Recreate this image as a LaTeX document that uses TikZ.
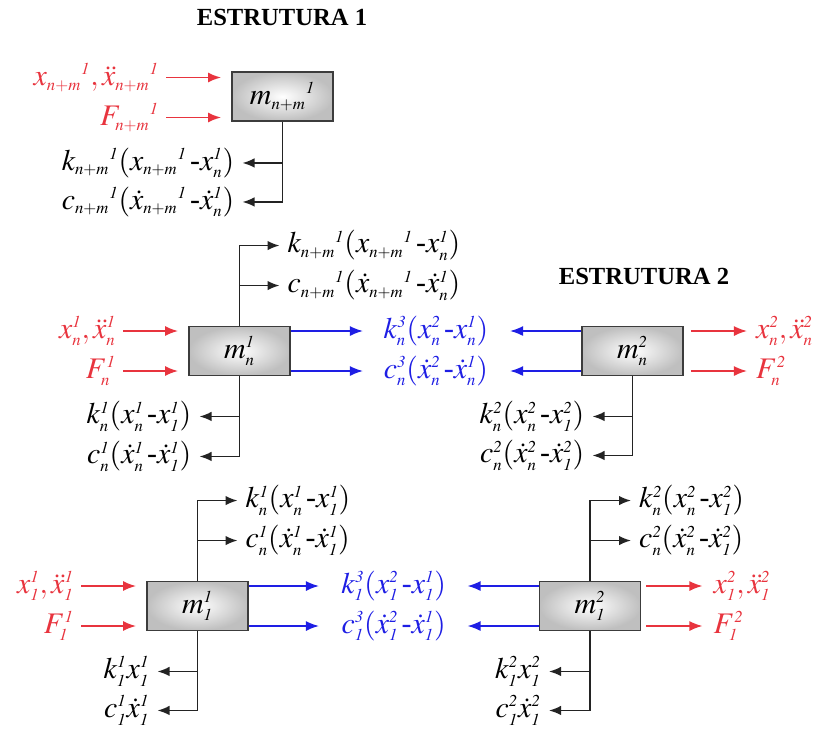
\documentclass[tikz,border=0pt]{standalone}
\usepackage{mathptmx}
\usepackage{fontspec}
\setmainfont{Liberation Serif}
\DeclareMathSizes{17}{17}{9.5}{7}
\usetikzlibrary{
    arrows.meta,
    positioning,
    calc
}
\definecolor{sigred}{RGB}{232,52,62}
\definecolor{sigblue}{RGB}{30,30,228}
\definecolor{wire}{RGB}{35,35,35}
\definecolor{boxline}{RGB}{60,60,60}
% italic digits and short dash, as in the drawing
\newcommand{\iOne}{\mathit{1}}
\newcommand{\iTwo}{\mathit{2}}
\newcommand{\iThree}{\mathit{3}}
\newcommand{\hy}{\,\mbox{-}}
\tikzset{
    % --- Mass block (shaded rectangle) ---
    mass/.style = {
        rectangle, draw=boxline, line width=1.1pt,
        minimum width=2.02cm, minimum height=0.98cm,
        inner color=white, outer color=gray!50,
        font=\fontsize{17}{19}\selectfont
    },
    % --- Force / state label ---
    lbl/.style = {
        font=\fontsize{17}{19}\selectfont, inner sep=0.5pt
    },
    red lbl/.style = {lbl, text=sigred},
    blue lbl/.style = {lbl, text=sigblue},
    % --- Structure title ---
    title/.style = {
        font=\fontsize{14}{16}\selectfont\bfseries
    },
    % --- Arrows ---
    red arrow/.style = {
        -{Latex[length=2.6mm,width=2mm]}, sigred, line width=0.9pt
    },
    blue arrow/.style = {
        -{Latex[length=2.6mm,width=2mm]}, sigblue, line width=0.9pt
    },
    wire arrow/.style = {
        -{Latex[length=2.4mm,width=1.9mm]}, wire, line width=0.9pt
    }
}

\begin{document}
\begin{tikzpicture}

\useasboundingbox (0,0) rectangle (16.48,-14.6);

% ---------------------------------------------------------
% Titles
% ---------------------------------------------------------
\node[title] (T1) at (5.64, -0.34) {ESTRUTURA 1};
\node[title] (T2) at (12.88, -5.52) {ESTRUTURA 2};

% ---------------------------------------------------------
% Masses
% ---------------------------------------------------------
\node[mass] (Mnm) at (5.65, -1.93)  {$m_{n+m}{}^{\iOne}$};
\node[mass] (Mn1) at (4.79, -7.02)  {$m_{n}^{\iOne}$};
\node[mass] (Mn2) at (12.65, -7.02) {$m_{n}^{\iTwo}$};
\node[mass] (M11) at (3.95, -12.12) {$m_{\iOne}^{\iOne}$};
\node[mass] (M12) at (11.80, -12.12) {$m_{\iOne}^{\iTwo}$};

% ---------------------------------------------------------
% Mass m_{n+m}^1
% ---------------------------------------------------------
\node[red lbl, anchor=east] (XNM) at ($(Mnm.west)+(-1.42,0.38)$)
    {$x_{n+m}{}^{\iOne},\ddot{x}_{n+m}{}^{\iOne}$};
\node[red lbl, anchor=east] (FNM) at ($(Mnm.west)+(-1.42,-0.42)$)
    {$F_{n+m}{}^{\iOne}$};
\draw[red arrow, shorten <=0.12cm, shorten >=0.2cm] (XNM.east) -- (XNM.east -| Mnm.west);
\draw[red arrow, shorten <=0.12cm, shorten >=0.2cm] (FNM.east) -- (FNM.east -| Mnm.west);

\node[lbl, anchor=east] (KNMa) at ($(Mnm.south)+(-0.94,-0.82)$)
    {$k_{n+m}{}^{\iOne}(x_{n+m}{}^{\iOne}\hy x_{n}^{\iOne})$};
\node[lbl, anchor=east] (CNMa) at ($(Mnm.south)+(-0.94,-1.6)$)
    {$c_{n+m}{}^{\iOne}(\dot{x}_{n+m}{}^{\iOne}\hy\dot{x}_{n}^{\iOne})$};
\draw[wire arrow, shorten >=0.14cm] (Mnm.south) |- (KNMa.east);
\draw[wire arrow, shorten >=0.14cm] (Mnm.south) |- (CNMa.east);

% ---------------------------------------------------------
% Mass m_n^1
% ---------------------------------------------------------
\node[lbl, anchor=west] (KNMb) at ($(Mn1.north)+(0.94,1.6)$)
    {$k_{n+m}{}^{\iOne}(x_{n+m}{}^{\iOne}\hy x_{n}^{\iOne})$};
\node[lbl, anchor=west] (CNMb) at ($(Mn1.north)+(0.94,0.8)$)
    {$c_{n+m}{}^{\iOne}(\dot{x}_{n+m}{}^{\iOne}\hy\dot{x}_{n}^{\iOne})$};
\draw[wire arrow, shorten >=0.14cm] (Mn1.north) |- (KNMb.west);
\draw[wire arrow, shorten >=0.14cm] (Mn1.north) |- (CNMb.west);

\node[red lbl, anchor=east] (XN1) at ($(Mn1.west)+(-1.42,0.4)$)
    {$x_{n}^{\iOne},\ddot{x}_{n}^{\iOne}$};
\node[red lbl, anchor=east] (FN1) at ($(Mn1.west)+(-1.42,-0.4)$)
    {$F_{n}^{\iOne}$};
\draw[red arrow, shorten <=0.12cm, shorten >=0.2cm] (XN1.east) -- (XN1.east -| Mn1.west);
\draw[red arrow, shorten <=0.12cm, shorten >=0.2cm] (FN1.east) -- (FN1.east -| Mn1.west);

\node[lbl, anchor=east] (KN1a) at ($(Mn1.south)+(-0.94,-0.8)$)
    {$k_{n}^{\iOne}(x_{n}^{\iOne}\hy x_{\iOne}^{\iOne})$};
\node[lbl, anchor=east] (CN1a) at ($(Mn1.south)+(-0.94,-1.6)$)
    {$c_{n}^{\iOne}(\dot{x}_{n}^{\iOne}\hy\dot{x}_{\iOne}^{\iOne})$};
\draw[wire arrow, shorten >=0.14cm] (Mn1.south) |- (KN1a.east);
\draw[wire arrow, shorten >=0.14cm] (Mn1.south) |- (CN1a.east);

% ---------------------------------------------------------
% Coupling n (between structures)
% ---------------------------------------------------------
\node[blue lbl] (KN3) at ($(Mn1.east)!0.5!(Mn2.west)+(0,0.4)$)
    {$k_{n}^{\iThree}(x_{n}^{\iTwo}\hy x_{n}^{\iOne})$};
\node[blue lbl] (CN3) at ($(Mn1.east)!0.5!(Mn2.west)+(0,-0.4)$)
    {$c_{n}^{\iThree}(\dot{x}_{n}^{\iTwo}\hy\dot{x}_{n}^{\iOne})$};
\coordinate (KN3l) at ($(Mn1.east)+(1.44,0.4)$);
\coordinate (CN3l) at ($(Mn1.east)+(1.44,-0.4)$);
\coordinate (KN3r) at ($(Mn2.west)+(-1.42,0.4)$);
\coordinate (CN3r) at ($(Mn2.west)+(-1.42,-0.4)$);
\draw[blue arrow] (KN3l -| Mn1.east) -- (KN3l);
\draw[blue arrow] (CN3l -| Mn1.east) -- (CN3l);
\draw[blue arrow] (KN3r -| Mn2.west) -- (KN3r);
\draw[blue arrow] (CN3r -| Mn2.west) -- (CN3r);

% ---------------------------------------------------------
% Mass m_n^2
% ---------------------------------------------------------
\node[red lbl, anchor=west] (XN2) at ($(Mn2.east)+(1.42,0.4)$)
    {$x_{n}^{\iTwo},\ddot{x}_{n}^{\iTwo}$};
\node[red lbl, anchor=west] (FN2) at ($(Mn2.east)+(1.42,-0.4)$)
    {$F_{n}^{\iTwo}$};
\draw[red arrow, shorten <=0.14cm, shorten >=0.16cm] (XN2.west -| Mn2.east) -- (XN2.west);
\draw[red arrow, shorten <=0.14cm, shorten >=0.16cm] (FN2.west -| Mn2.east) -- (FN2.west);

\node[lbl, anchor=east] (KN2a) at ($(Mn2.south)+(-0.94,-0.8)$)
    {$k_{n}^{\iTwo}(x_{n}^{\iTwo}\hy x_{\iOne}^{\iTwo})$};
\node[lbl, anchor=east] (CN2a) at ($(Mn2.south)+(-0.94,-1.58)$)
    {$c_{n}^{\iTwo}(\dot{x}_{n}^{\iTwo}\hy\dot{x}_{\iOne}^{\iTwo})$};
\draw[wire arrow, shorten >=0.14cm] (Mn2.south) |- (KN2a.east);
\draw[wire arrow, shorten >=0.14cm] (Mn2.south) |- (CN2a.east);

% ---------------------------------------------------------
% Mass m_1^1
% ---------------------------------------------------------
\node[lbl, anchor=west] (KN1b) at ($(M11.north)+(0.94,1.6)$)
    {$k_{n}^{\iOne}(x_{n}^{\iOne}\hy x_{\iOne}^{\iOne})$};
\node[lbl, anchor=west] (CN1b) at ($(M11.north)+(0.94,0.8)$)
    {$c_{n}^{\iOne}(\dot{x}_{n}^{\iOne}\hy\dot{x}_{\iOne}^{\iOne})$};
\draw[wire arrow, shorten >=0.14cm] (M11.north) |- (KN1b.west);
\draw[wire arrow, shorten >=0.14cm] (M11.north) |- (CN1b.west);

\node[red lbl, anchor=east] (X11) at ($(M11.west)+(-1.42,0.4)$)
    {$x_{\iOne}^{\iOne},\ddot{x}_{\iOne}^{\iOne}$};
\node[red lbl, anchor=east] (F11) at ($(M11.west)+(-1.42,-0.4)$)
    {$F_{\iOne}^{\iOne}$};
\draw[red arrow, shorten <=0.12cm, shorten >=0.2cm] (X11.east) -- (X11.east -| M11.west);
\draw[red arrow, shorten <=0.12cm, shorten >=0.2cm] (F11.east) -- (F11.east -| M11.west);

\node[lbl, anchor=east] (K11) at ($(M11.south)+(-0.94,-0.8)$)
    {$k_{\iOne}^{\iOne}x_{\iOne}^{\iOne}$};
\node[lbl, anchor=east] (C11) at ($(M11.south)+(-0.94,-1.58)$)
    {$c_{\iOne}^{\iOne}\dot{x}_{\iOne}^{\iOne}$};
\draw[wire arrow, shorten >=0.14cm] (M11.south) |- (K11.east);
\draw[wire arrow, shorten >=0.14cm] (M11.south) |- (C11.east);

% ---------------------------------------------------------
% Coupling 1 (between structures)
% ---------------------------------------------------------
\node[blue lbl] (K13) at ($(M11.east)!0.5!(M12.west)+(0,0.4)$)
    {$k_{\iOne}^{\iThree}(x_{\iOne}^{\iTwo}\hy x_{\iOne}^{\iOne})$};
\node[blue lbl] (C13) at ($(M11.east)!0.5!(M12.west)+(0,-0.4)$)
    {$c_{\iOne}^{\iThree}(\dot{x}_{\iOne}^{\iTwo}\hy\dot{x}_{\iOne}^{\iOne})$};
\coordinate (K13l) at ($(M11.east)+(1.4,0.4)$);
\coordinate (C13l) at ($(M11.east)+(1.4,-0.4)$);
\coordinate (K13r) at ($(M12.west)+(-1.42,0.4)$);
\coordinate (C13r) at ($(M12.west)+(-1.42,-0.4)$);
\draw[blue arrow] (K13l -| M11.east) -- (K13l);
\draw[blue arrow] (C13l -| M11.east) -- (C13l);
\draw[blue arrow] (K13r -| M12.west) -- (K13r);
\draw[blue arrow] (C13r -| M12.west) -- (C13r);

% ---------------------------------------------------------
% Mass m_1^2
% ---------------------------------------------------------
\node[lbl, anchor=west] (KN2b) at ($(M12.north)+(0.96,1.6)$)
    {$k_{n}^{\iTwo}(x_{n}^{\iTwo}\hy x_{\iOne}^{\iTwo})$};
\node[lbl, anchor=west] (CN2b) at ($(M12.north)+(0.96,0.8)$)
    {$c_{n}^{\iTwo}(\dot{x}_{n}^{\iTwo}\hy\dot{x}_{\iOne}^{\iTwo})$};
\draw[wire arrow, shorten >=0.14cm] (M12.north) |- (KN2b.west);
\draw[wire arrow, shorten >=0.14cm] (M12.north) |- (CN2b.west);

\node[red lbl, anchor=west] (X12) at ($(M12.east)+(1.42,0.4)$)
    {$x_{\iOne}^{\iTwo},\ddot{x}_{\iOne}^{\iTwo}$};
\node[red lbl, anchor=west] (F12) at ($(M12.east)+(1.42,-0.4)$)
    {$F_{\iOne}^{\iTwo}$};
\draw[red arrow, shorten <=0.1cm, shorten >=0.2cm] (X12.west -| M12.east) -- (X12.west);
\draw[red arrow, shorten <=0.1cm, shorten >=0.2cm] (F12.west -| M12.east) -- (F12.west);

\node[lbl, anchor=east] (K12) at ($(M12.south)+(-0.96,-0.8)$)
    {$k_{\iOne}^{\iTwo}x_{\iOne}^{\iTwo}$};
\node[lbl, anchor=east] (C12) at ($(M12.south)+(-0.96,-1.58)$)
    {$c_{\iOne}^{\iTwo}\dot{x}_{\iOne}^{\iTwo}$};
\draw[wire arrow, shorten >=0.14cm] (M12.south) |- (K12.east);
\draw[wire arrow, shorten >=0.14cm] (M12.south) |- (C12.east);

\end{tikzpicture}
\end{document}
